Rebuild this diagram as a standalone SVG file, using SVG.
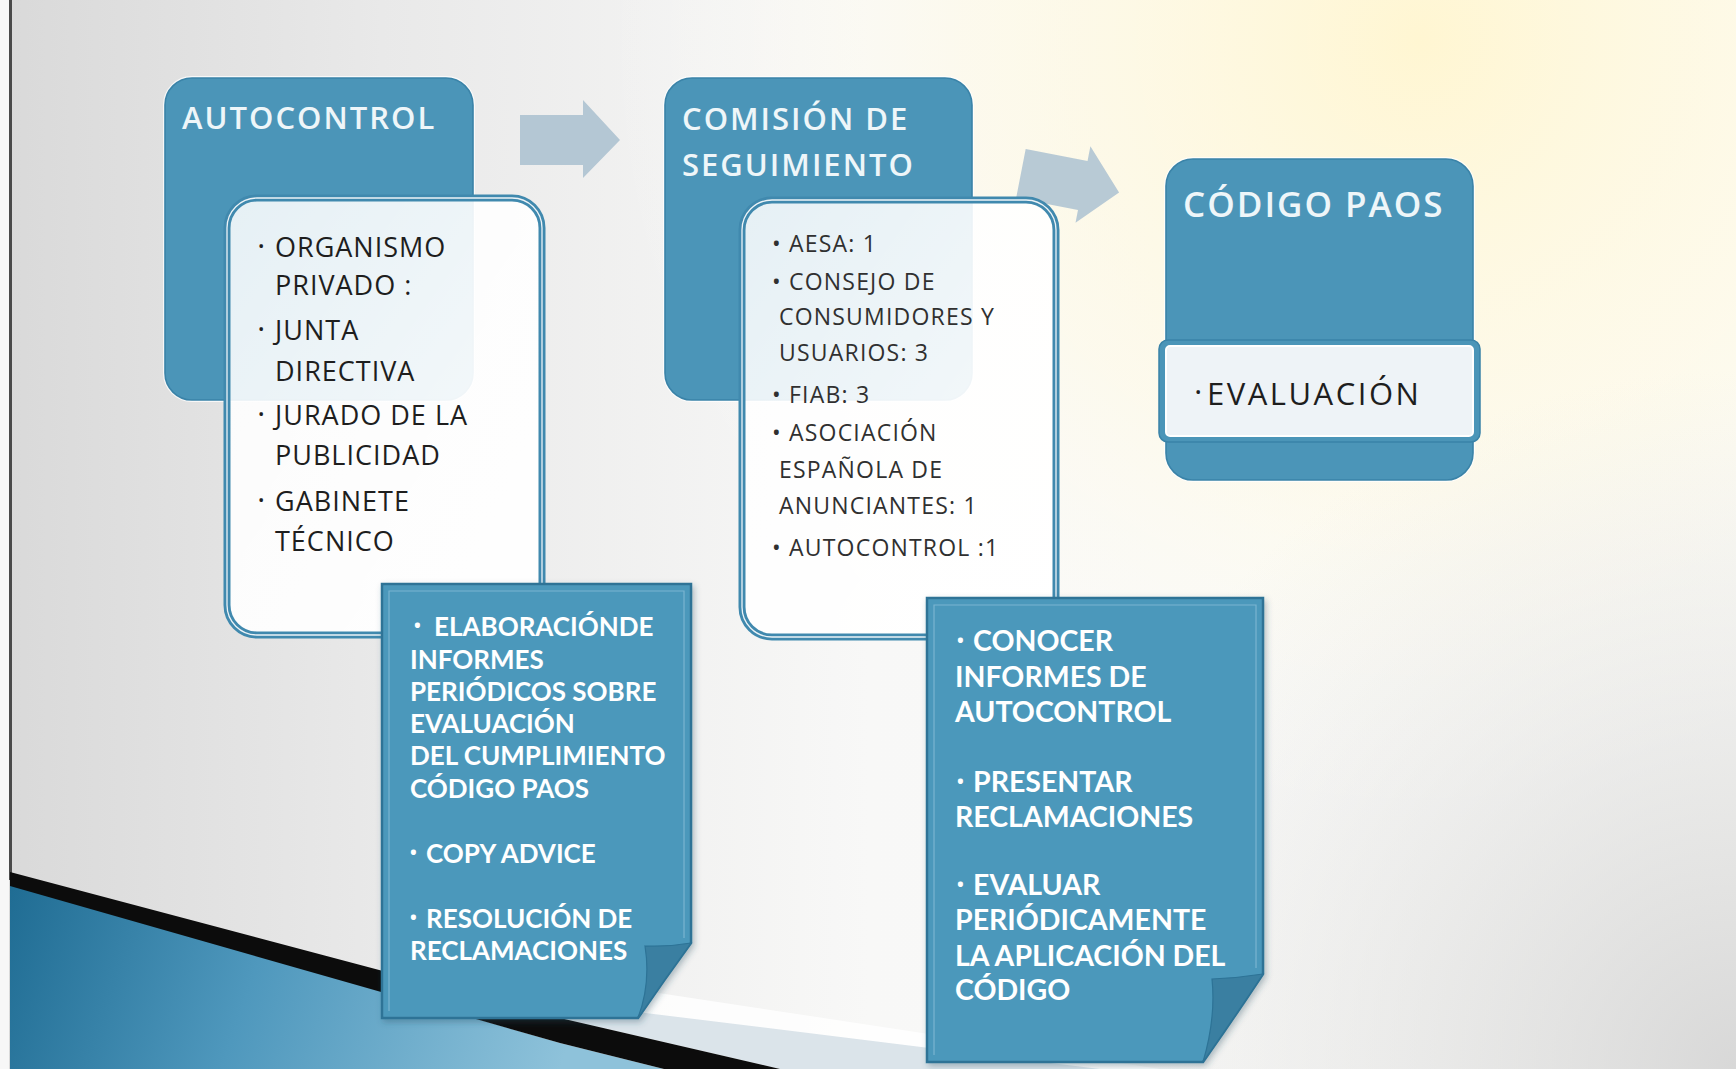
<svg xmlns="http://www.w3.org/2000/svg" width="1736" height="1069" viewBox="0 0 1736 1069">
  <defs>
    <linearGradient id="bgBase" x1="0" y1="0" x2="1" y2="0">
      <stop offset="0" stop-color="#d9d9d9"/>
      <stop offset="0.22" stop-color="#e9e9e9"/>
      <stop offset="0.5" stop-color="#f8f8f7"/>
      <stop offset="1" stop-color="#fbfbf8"/>
    </linearGradient>
    <radialGradient id="cream" cx="1420" cy="40" r="820" gradientUnits="userSpaceOnUse">
      <stop offset="0" stop-color="#fff6d2" stop-opacity="1"/>
      <stop offset="0.55" stop-color="#fffae6" stop-opacity="0.6"/>
      <stop offset="1" stop-color="#ffffff" stop-opacity="0"/>
    </radialGradient>
    <radialGradient id="greyCorner" cx="1736" cy="1069" r="700" gradientUnits="userSpaceOnUse">
      <stop offset="0" stop-color="#d4d4d4" stop-opacity="0.9"/>
      <stop offset="1" stop-color="#e0e0e0" stop-opacity="0"/>
    </radialGradient>
    <linearGradient id="swoosh" x1="10" y1="880" x2="560" y2="1069" gradientUnits="userSpaceOnUse">
      <stop offset="0" stop-color="#1f6c93"/>
      <stop offset="0.45" stop-color="#4f98bd"/>
      <stop offset="1" stop-color="#8ec2da"/>
    </linearGradient>
    <linearGradient id="whiteBox" x1="0" y1="0" x2="1" y2="1">
      <stop offset="0" stop-color="#ffffff" stop-opacity="0.86"/>
      <stop offset="1" stop-color="#ffffff" stop-opacity="0.97"/>
    </linearGradient>
    <filter id="soft" x="-10%" y="-10%" width="130%" height="130%">
      <feDropShadow dx="2" dy="3" stdDeviation="3" flood-color="#2b4f63" flood-opacity="0.35"/>
    </filter>
    <style>
      .head { fill: #4b95b8; stroke: #3a83a8; stroke-width: 1.6; }
      .halo { fill: none; stroke: #ffffff; stroke-opacity: 0.75; stroke-width: 4; }
      .panel { fill: url(#whiteBox); stroke: #4089ae; stroke-width: 7; }
      .panelLine { fill: none; stroke: #ffffff; stroke-width: 1.3; stroke-opacity: 0.9; }
      .note { fill: #4c98bb; stroke: #2d7396; stroke-width: 2.5; }
      .noteLine { fill: none; stroke: #86bcd6; stroke-width: 1.2; stroke-opacity: 0.8; }
      .flap { fill: #3a7fa1; stroke: #2d7396; stroke-width: 1.2; }
      .title { font-family: "Open Sans", "Liberation Sans", sans-serif; font-weight: 600; fill: #eef6f9; letter-spacing: 2px; }
      .list1 { font-family: "Open Sans", "Liberation Sans", sans-serif; font-size: 27px; fill: #1e1e1e; letter-spacing: 1px; }
      .list2 { font-family: "Open Sans", "Liberation Sans", sans-serif; font-size: 23px; fill: #303030; letter-spacing: 1.2px; }
      .bul { font-family: "Open Sans", "Liberation Sans", sans-serif; font-size: 17px; }
      .task { font-family: Lato, "Open Sans", "Liberation Sans", sans-serif; font-weight: 700; fill: #ffffff; }
      .tb { font-family: "Open Sans", "Liberation Sans", sans-serif; font-size: 18px; }
      .arrow { fill: #b4c7d4; }
    </style>
  </defs>

  <!-- slide background -->
  <g id="background">
    <rect x="0" y="0" width="1736" height="1069" fill="url(#bgBase)"/>
    <rect x="0" y="0" width="1736" height="1069" fill="url(#cream)"/>
    <rect x="0" y="0" width="1736" height="1069" fill="url(#greyCorner)"/>
    <rect x="0" y="0" width="9" height="1069" fill="#f7f7f7"/>
    <rect x="9" y="0" width="3" height="880" fill="#4a4a4a"/>
    <!-- light bands above the dark stripe -->
    <polygon points="540,975 1160,1069 800,1069 540,1010" fill="#ffffff" opacity="0.8"/>
    <polygon points="540,1000 1100,1069 780,1069 560,1018" fill="#dbe4ea"/>
    <!-- blue corner with its dark edge stripe -->
    <polygon points="10,884 560,1043 664,1069 10,1069" fill="url(#swoosh)"/>
    <polygon points="10,872 560,1018 780,1069 664,1069 560,1043 10,886" fill="#0c0c0c"/>
  </g>

  <!-- connectors -->
  <g id="connectors">
    <path class="arrow" d="M520,115 H583 V100 L620,140 L583,178 V165 H520 Z"/>
    <path class="arrow" d="M520,115 H583 V100 L620,140 L583,178 V165 H520 Z" transform="translate(500 43) rotate(11 570 140)" opacity="0.95"/>
  </g>

  <!-- AUTOCONTROL header -->
  <g id="node-autocontrol">
    <rect class="halo" x="165" y="78" width="308" height="322" rx="27"/>
    <rect class="head" x="165" y="78" width="308" height="322" rx="27"/>
    <text class="title" x="182" y="129" font-size="31">AUTOCONTROL</text>
  </g>

  <!-- AUTOCONTROL members -->
  <g id="node-autocontrol-members">
    <rect class="panel" x="227" y="198" width="315" height="437" rx="30"/>
    <rect class="panelLine" x="227" y="198" width="315" height="437" rx="30"/>
    <text class="bul" x="258" y="252" fill="#1e1e1e">•</text>
    <text class="list1" x="275" y="257">ORGANISMO</text>
    <text class="list1" x="275" y="295">PRIVADO :</text>
    <text class="bul" x="258" y="335" fill="#1e1e1e">•</text>
    <text class="list1" x="275" y="340">JUNTA</text>
    <text class="list1" x="275" y="381">DIRECTIVA</text>
    <text class="bul" x="258" y="420" fill="#1e1e1e">•</text>
    <text class="list1" x="275" y="425">JURADO DE LA</text>
    <text class="list1" x="275" y="465">PUBLICIDAD</text>
    <text class="bul" x="258" y="506" fill="#1e1e1e">•</text>
    <text class="list1" x="275" y="511">GABINETE</text>
    <text class="list1" x="275" y="551">TÉCNICO</text>
  </g>

  <!-- AUTOCONTROL tasks note -->
  <g id="node-autocontrol-tasks">
    <path class="note" filter="url(#soft)" d="M382,584 H691 V943 Q664,980 638,1018 H382 Z"/>
    <path class="noteLine" d="M389,1011 V591 H684 V938"/>
    <path class="flap" d="M645,946 Q668,947 691,943 Q664,980 638,1018 Q651,983 645,946 Z"/>
    <text class="task" font-size="26">
      <tspan class="tb" x="414" y="632">•</tspan>
      <tspan x="434" y="636">ELABORACIÓNDE</tspan>
      <tspan x="410" y="669">INFORMES</tspan>
      <tspan x="410" y="701">PERIÓDICOS SOBRE</tspan>
      <tspan x="410" y="733">EVALUACIÓN</tspan>
      <tspan x="410" y="765">DEL CUMPLIMIENTO</tspan>
      <tspan x="410" y="798">CÓDIGO PAOS</tspan>
      <tspan class="tb" x="410" y="859">•</tspan>
      <tspan x="426" y="863">COPY ADVICE</tspan>
      <tspan class="tb" x="410" y="924">•</tspan>
      <tspan x="426" y="928">RESOLUCIÓN DE</tspan>
      <tspan x="410" y="960">RECLAMACIONES</tspan>
    </text>
  </g>

  <!-- COMISIÓN DE SEGUIMIENTO header -->
  <g id="node-comision">
    <rect class="halo" x="665" y="78" width="307" height="322" rx="27"/>
    <rect class="head" x="665" y="78" width="307" height="322" rx="27"/>
    <text class="title" x="682" y="130" font-size="31">COMISIÓN DE</text>
    <text class="title" x="682" y="176" font-size="31">SEGUIMIENTO</text>
  </g>

  <!-- COMISIÓN members -->
  <g id="node-comision-members">
    <rect class="panel" x="742" y="200" width="314" height="437" rx="30"/>
    <rect class="panelLine" x="742" y="200" width="314" height="437" rx="30"/>
    <text class="list2">
      <tspan x="772" y="252">• AESA: 1</tspan>
      <tspan x="772" y="290">• CONSEJO DE</tspan>
      <tspan x="779" y="325">CONSUMIDORES Y</tspan>
      <tspan x="779" y="361">USUARIOS: 3</tspan>
      <tspan x="772" y="403">• FIAB: 3</tspan>
      <tspan x="772" y="441">• ASOCIACIÓN</tspan>
      <tspan x="779" y="478">ESPAÑOLA DE</tspan>
      <tspan x="779" y="514">ANUNCIANTES: 1</tspan>
      <tspan x="772" y="556">• AUTOCONTROL :1</tspan>
    </text>
  </g>

  <!-- COMISIÓN tasks note -->
  <g id="node-comision-tasks">
    <path class="note" filter="url(#soft)" d="M927,598 H1263 V974 Q1234,1018 1203,1062 H927 Z"/>
    <path class="noteLine" d="M934,1055 V605 H1256 V968"/>
    <path class="flap" d="M1212,979 Q1238,978 1263,974 Q1234,1018 1203,1062 Q1216,1018 1212,979 Z"/>
    <text class="task" font-size="28.5">
      <tspan class="tb" x="957" y="647">•</tspan>
      <tspan x="973" y="651">CONOCER</tspan>
      <tspan x="955" y="687">INFORMES DE</tspan>
      <tspan x="955" y="722">AUTOCONTROL</tspan>
      <tspan class="tb" x="957" y="788">•</tspan>
      <tspan x="973" y="792">PRESENTAR</tspan>
      <tspan x="955" y="827">RECLAMACIONES</tspan>
      <tspan class="tb" x="957" y="891">•</tspan>
      <tspan x="973" y="895">EVALUAR</tspan>
      <tspan x="955" y="930">PERIÓDICAMENTE</tspan>
      <tspan x="955" y="966">LA APLICACIÓN DEL</tspan>
      <tspan x="955" y="1000">CÓDIGO</tspan>
    </text>
  </g>

  <!-- CÓDIGO PAOS -->
  <g id="node-codigo">
    <rect class="halo" x="1166" y="159" width="307" height="321" rx="27"/>
    <rect class="head" x="1166" y="159" width="307" height="321" rx="27"/>
    <text class="title" x="1183" y="217" font-size="35">CÓDIGO PAOS</text>
    <rect x="1159" y="340" width="321" height="102" rx="9" fill="#4b95b8" stroke="#3a83a8" stroke-width="1.5"/>
    <rect x="1166" y="346" width="307" height="90" rx="4" fill="#eef3f7" stroke="#ffffff" stroke-width="2"/>
    <text x="1195" y="398" font-family="'Open Sans', 'Liberation Sans', sans-serif" font-size="17" fill="#1e1e1e">•</text>
    <text x="1207" y="405" font-family="'Open Sans', 'Liberation Sans', sans-serif" font-size="31" fill="#1e1e1e" letter-spacing="2.5">EVALUACIÓN</text>
  </g>
</svg>
